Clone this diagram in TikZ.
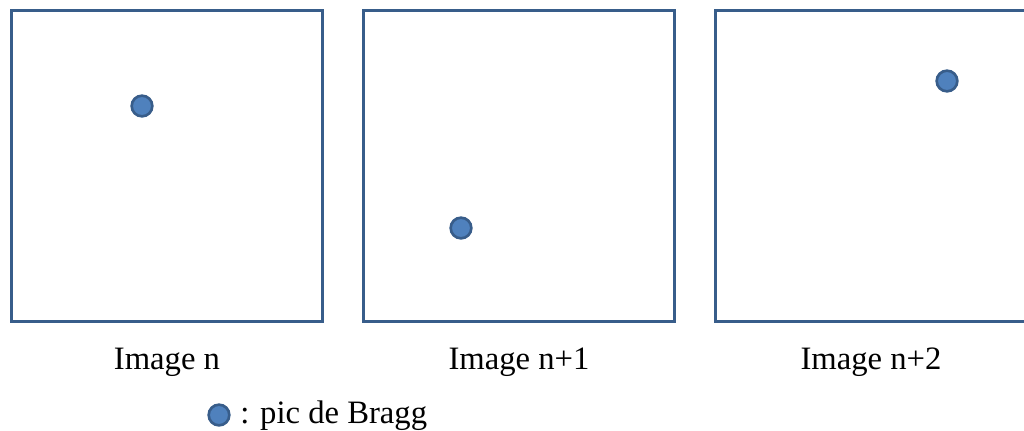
\documentclass[tikz,border=0pt]{standalone}
\usepackage{fontspec}
\setmainfont{Liberation Serif}
\usepackage{tikz}
\usetikzlibrary{positioning}

\begin{document}
\begin{tikzpicture}[x=0.75pt,y=-0.75pt]
    \definecolor{cFrame}{RGB}{56,93,138}\definecolor{cSpot}{RGB}{79,129,189}
    \tikzset{
      frame/.style={draw=cFrame,line width=2.25pt,minimum width=233.25pt,minimum height=233.25pt,inner sep=0pt},
      spot/.style={circle,draw=cFrame,line width=2pt,fill=cSpot,minimum size=15.5pt,inner sep=0pt},
      caption/.style={anchor=base,font=\fontsize{24.5}{28}\selectfont,inner sep=0pt}
    }
    \useasboundingbox (0,0) rectangle (1024,430);
    % three detector images
    \foreach \i/\cx/\lab in {1/167/Image n,2/519/Image n+1,3/871/Image n+2}{
       \node[frame] (img\i) at (\cx,166) {};
       \node[caption] (cap\i) at (\cx,369) {\lab};
    }
    % Bragg peaks, one per image
    \node[spot] (peak1) at (142,106) {};
    \node[spot] (peak2) at (461,228) {};
    \node[spot] (peak3) at (947,81) {};
    % legend
    \node[spot] (keyspot) at (219,415) {};
    \node[caption,anchor=base west] (keytext) at (240,423) {: pic de Bragg};
\end{tikzpicture}
\end{document}
